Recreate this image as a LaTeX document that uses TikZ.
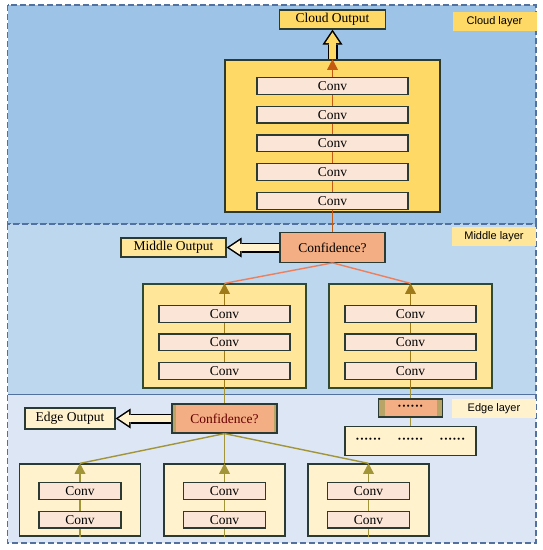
\documentclass[tikz,border=0pt]{standalone}
\usepackage{fontspec}
\setmainfont{Liberation Serif}
\setsansfont{Liberation Sans}
\usetikzlibrary{arrows.meta, positioning, calc}
\definecolor{cloudbg}{HTML}{9DC3E6}
\definecolor{midbg}{HTML}{BDD7EE}
\definecolor{edgebg}{HTML}{DDE6F4}
\definecolor{tierline}{HTML}{52719F}
\definecolor{goldA}{HTML}{FFD966}
\definecolor{goldB}{HTML}{FFE699}
\definecolor{goldC}{HTML}{FFF2CC}
\definecolor{convbg}{HTML}{FBE5D6}
\definecolor{confbg}{HTML}{F4AE84}
\definecolor{boxline}{HTML}{2B3A33}
\definecolor{midline}{HTML}{2F4A36}
\definecolor{cloudflow}{HTML}{C55A11}
\definecolor{midflow}{HTML}{EE7F5C}
\definecolor{midtip}{HTML}{9E7A18}
\definecolor{edgeflow}{HTML}{A19538}
\definecolor{oliveband}{HTML}{B9A468}

\begin{document}
\begin{tikzpicture}[x=1pt, y=-1pt,
  tierbg/.style={draw=tierline, dash pattern=on 6pt off 3pt, line width=1.1pt, fill=#1},
  net/.style={draw=boxline, line width=1.3pt, fill=#1, inner sep=0pt},
  conv/.style={draw=boxline, line width=1.2pt, fill=convbg, inner sep=0pt, minimum height=16.8pt, font=\fontsize{13.5}{15}\selectfont},
  conf/.style={draw=boxline, line width=1.2pt, fill=confbg, minimum width=105pt, minimum height=29.5pt, inner sep=0pt, font=\fontsize{13.5}{15}\selectfont},
  outbox/.style={draw=boxline, line width=1.2pt, fill=#1, minimum height=19pt, inner sep=0pt, font=\fontsize{13.5}{15}\selectfont},
  tag/.style={fill=#1, minimum width=84pt, minimum height=18.5pt, inner sep=0pt, font=\sffamily\fontsize{11}{13}\selectfont},
  sideband/.style={path picture={
    \fill[oliveband] (path picture bounding box.north west) rectangle ([xshift=#1]path picture bounding box.south west);
    \fill[oliveband] (path picture bounding box.north east) rectangle ([xshift=-#1]path picture bounding box.south east);}},
  flow/.style={draw=#1, line width=1.5pt, -{Triangle[width=11pt, length=10.5pt, line width=0pt]}},
  feed/.style={draw=#1, line width=1.4pt},
  fatrim/.style={draw=black, line width=10pt, -{Triangle[width=20pt, length=15pt, line width=0pt]}},
  fatcore/.style={draw=#1, line width=7pt, shorten >=2.7pt, -{Triangle[width=14.4pt, length=10.8pt, line width=0pt]}}
]
  \useasboundingbox (0,0) rectangle (543,550);

  % three tiers
  \path[tierbg=cloudbg] (7.6,5) rectangle (536,224);
  \path[tierbg=midbg] (7.6,224) rectangle (536,394.5);
  \path[tierbg=edgebg] (7.6,394.5) rectangle (536,543);

  % cloud tier
  \node[net=goldA, minimum width=215pt, minimum height=152pt] (cloudnet) at (332.5,136) {};
  \node[outbox=goldA, minimum width=106pt] (cloudout) at (332.5,19.5) {Cloud Output};
  \node[tag=goldA] (cloudtag) at (494.5,21.5) {Cloud layer};

  % middle tier
  \node[conf] (midconf) at (332.5,247.5) {Confidence?};
  \node[outbox=goldB, minimum width=105pt] (midout) at (173.5,247.5) {Middle Output};
  \node[tag=goldB] (midtag) at (494,236.5) {Middle layer};
  \node[net=goldB, draw=midline, minimum width=163pt, minimum height=104pt] (midL) at (224.5,336) {};
  \node[net=goldB, draw=midline, minimum width=163pt, minimum height=104pt] (midR) at (410.5,336) {};

  % edge tier
  \node[conf, sideband=3.5pt, text=red!40!black, minimum height=29pt] (edgeconf) at (224.5,418.5) {Confidence?};
  \node[outbox=goldC, minimum width=90pt, minimum height=21pt] (edgeout) at (70,418.5) {Edge Output};
  \node[tag=goldC] (edgetag) at (494,408.5) {Edge layer};
  \node[conf, sideband=6pt, minimum width=64pt, minimum height=18pt, font=\bfseries\fontsize{13}{15}\selectfont] (dotbox) at (410.5,408) {······};
  \node[outbox=goldC, minimum width=131pt, minimum height=29pt, font=\bfseries\fontsize{13}{15}\selectfont] (dotrow) at (410.5,441) {······\hspace{16pt}······\hspace{16pt}······};
  \node[net=goldC, minimum width=121pt, minimum height=72pt] (edgeA) at (80,500) {};
  \node[net=goldC, minimum width=121pt, minimum height=72pt] (edgeB) at (224.5,500) {};
  \node[net=goldC, minimum width=121pt, minimum height=72pt] (edgeC) at (368.5,500) {};

  % connectors
  \draw[flow=cloudflow] (midconf.north) -- (cloudnet.north);
  \draw[feed=midflow] (midconf.south) -- (midL.north);
  \draw[feed=midflow] (midconf.south) -- (midR.north);
  \draw[flow=midtip] (midL.south) -- (midL.north);
  \draw[flow=midtip] (midR.south) -- (midR.north);
  \draw[feed=edgeflow] (edgeconf.north) -- (midL.south);
  \draw[feed=edgeflow] (dotbox.north) -- (midR.south);
  \draw[feed=edgeflow] (dotbox.south) -- (dotrow.north);
  \draw[feed=edgeflow] (edgeconf.south) -- (edgeA.north);
  \draw[feed=edgeflow] (edgeconf.south) -- (edgeB.north);
  \draw[feed=edgeflow] (edgeconf.south) -- (edgeC.north);
  \draw[flow=edgeflow] (edgeA.south) -- (edgeA.north);
  \draw[flow=edgeflow] (edgeB.south) -- (edgeB.north);
  \draw[flow=edgeflow] (edgeC.south) -- (edgeC.north);

  % conv stacks
  \node[conv, minimum width=151pt, below=17.5pt of cloudnet.north] (cc1) {Conv};
  \node[conv, minimum width=151pt, below=10.8pt of cc1] (cc2) {Conv};
  \node[conv, minimum width=151pt, below=10.8pt of cc2] (cc3) {Conv};
  \node[conv, minimum width=151pt, below=10.8pt of cc3] (cc4) {Conv};
  \node[conv, minimum width=151pt, below=10.8pt of cc4] (cc5) {Conv};
  \node[conv, minimum width=131pt, below=21.6pt of midL.north] (ml1) {Conv};
  \node[conv, minimum width=131pt, below=10.5pt of ml1] (ml2) {Conv};
  \node[conv, minimum width=131pt, below=10.5pt of ml2] (ml3) {Conv};
  \node[conv, minimum width=131pt, below=21.6pt of midR.north] (mr1) {Conv};
  \node[conv, minimum width=131pt, below=10.5pt of mr1] (mr2) {Conv};
  \node[conv, minimum width=131pt, below=10.5pt of mr2] (mr3) {Conv};
  \node[conv, minimum width=82pt, below=18.6pt of edgeA.north] (ea1) {Conv};
  \node[conv, minimum width=82pt, below=10.7pt of ea1] (ea2) {Conv};
  \node[conv, minimum width=82pt, below=18.6pt of edgeB.north] (eb1) {Conv};
  \node[conv, minimum width=82pt, below=10.7pt of eb1] (eb2) {Conv};
  \node[conv, minimum width=82pt, below=18.6pt of edgeC.north] (ec1) {Conv};
  \node[conv, minimum width=82pt, below=10.7pt of ec1] (ec2) {Conv};

  % early exits
  \draw[fatrim] (cloudnet.north) -- (cloudout.south);
  \draw[fatcore=goldA] (cloudnet.north) -- (cloudout.south);
  \draw[fatrim] (midconf.west) -- (midout.east);
  \draw[fatcore=goldC] (midconf.west) -- (midout.east);
  \draw[fatrim] (edgeconf.west) -- (edgeout.east);
  \draw[fatcore=goldC] (edgeconf.west) -- (edgeout.east);
\end{tikzpicture}
\end{document}
